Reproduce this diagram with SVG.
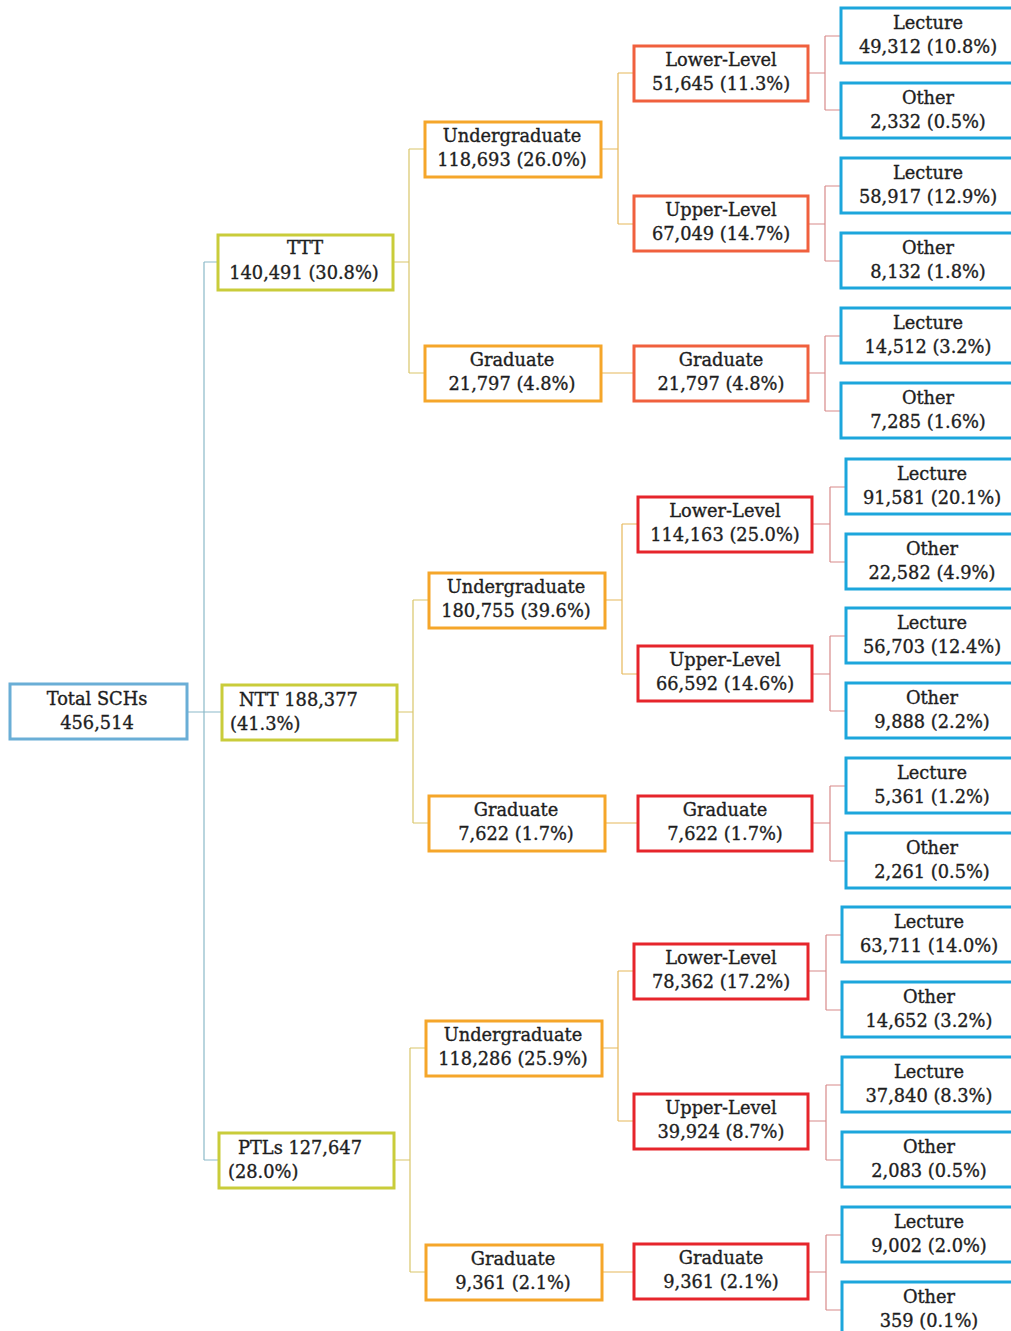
<svg xmlns="http://www.w3.org/2000/svg" width="1011" height="1331" viewBox="0 0 1011 1331">
<style>
rect{fill:#fff;stroke-width:3}
.r0{stroke:#6aaed6}
.r1{stroke:#c9cc3a}
.r2{stroke:#f5a62a}
.r3a{stroke:#f0603e}
.r3b{stroke:#e6252b}
.r4{stroke:#1ca6dc}
text{font-family:"DejaVu Serif","Liberation Serif",serif;font-size:17.8px;fill:#1e1e1e;stroke:#1e1e1e;stroke-width:0.35;text-anchor:middle}
.l{text-anchor:start}
.c0{stroke:#8bb9c9;fill:none;stroke-width:1.2}
.c1{stroke:#d9c66a;fill:none;stroke-width:1.2}
.c2{stroke:#e6b85a;fill:none;stroke-width:1.2}
.c3{stroke:#d88a8a;fill:none;stroke-width:1.2}
</style>
<g id="connectors">
<path class="c0" d="M187 712H204M204 262V1160M204 262H218M204 712H222M204 1160H219"/>
<path class="c1" d="M393 262H409M409 149V373M409 149H425M409 373H425"/>
<path class="c1" d="M397 712H413M413 600V823M413 600H429M413 823H429"/>
<path class="c1" d="M394 1160H410M410 1048V1272M410 1048H426M410 1272H426"/>
<path class="c2" d="M601 149H618M618 73V224M618 73H634M618 224H634M601 373H634"/>
<path class="c2" d="M605 600H622M622 524V674M622 524H638M622 674H638M605 823H638"/>
<path class="c2" d="M602 1048H618M618 971V1121M618 971H634M618 1121H634M602 1272H634"/>
<path class="c3" d="M808 73H825M825 36V110M825 36H841M825 110H841"/>
<path class="c3" d="M808 224H825M825 186V261M825 186H841M825 261H841"/>
<path class="c3" d="M808 373H825M825 336V411M825 336H841M825 411H841"/>
<path class="c3" d="M812 524H830M830 487V562M830 487H846M830 562H846"/>
<path class="c3" d="M812 674H830M830 636V711M830 636H846M830 711H846"/>
<path class="c3" d="M812 823H830M830 786V861M830 786H846M830 861H846"/>
<path class="c3" d="M808 971H826M826 935V1010M826 935H842M826 1010H842"/>
<path class="c3" d="M808 1121H826M826 1085V1160M826 1085H842M826 1160H842"/>
<path class="c3" d="M808 1272H826M826 1235V1310M826 1235H842M826 1310H842"/>
</g>
<g id="root"><rect class="r0" x="10" y="684" width="177" height="55"/><text x="97" y="705">Total SCHs</text><text x="97" y="729">456,514</text></g>
<g id="ttt"><rect class="r1" x="218" y="235" width="175" height="55"/><text x="305" y="254">TTT</text><text x="304" y="279">140,491 (30.8%)</text></g>
<g id="ntt"><rect class="r1" x="222" y="685" width="175" height="55"/><text class="l" x="239" y="706">NTT 188,377</text><text class="l" x="230" y="730">(41.3%)</text></g>
<g id="ptl"><rect class="r1" x="219" y="1133" width="175" height="55"/><text class="l" x="238" y="1154">PTLs 127,647</text><text class="l" x="228" y="1178">(28.0%)</text></g>
<g id="ttt-ug"><rect class="r2" x="425" y="122" width="176" height="55"/><text x="512" y="142">Undergraduate</text><text x="512" y="166">118,693 (26.0%)</text></g>
<g id="ttt-gr"><rect class="r2" x="425" y="346" width="176" height="55"/><text x="512" y="366">Graduate</text><text x="512" y="390">21,797 (4.8%)</text></g>
<g id="ntt-ug"><rect class="r2" x="429" y="573" width="176" height="55"/><text x="516" y="593">Undergraduate</text><text x="516" y="617">180,755 (39.6%)</text></g>
<g id="ntt-gr"><rect class="r2" x="429" y="796" width="176" height="55"/><text x="516" y="816">Graduate</text><text x="516" y="840">7,622 (1.7%)</text></g>
<g id="ptl-ug"><rect class="r2" x="426" y="1021" width="176" height="55"/><text x="513" y="1041">Undergraduate</text><text x="513" y="1065">118,286 (25.9%)</text></g>
<g id="ptl-gr"><rect class="r2" x="426" y="1245" width="176" height="55"/><text x="513" y="1265">Graduate</text><text x="513" y="1289">9,361 (2.1%)</text></g>
<g id="ttt-ll"><rect class="r3a" x="634" y="46" width="174" height="55"/><text x="721" y="66">Lower-Level</text><text x="721" y="90">51,645 (11.3%)</text></g>
<g id="ttt-ul"><rect class="r3a" x="634" y="196" width="174" height="55"/><text x="721" y="216">Upper-Level</text><text x="721" y="240">67,049 (14.7%)</text></g>
<g id="ttt-g2"><rect class="r3a" x="634" y="346" width="174" height="55"/><text x="721" y="366">Graduate</text><text x="721" y="390">21,797 (4.8%)</text></g>
<g id="ntt-ll"><rect class="r3b" x="638" y="497" width="174" height="55"/><text x="725" y="517">Lower-Level</text><text x="725" y="541">114,163 (25.0%)</text></g>
<g id="ntt-ul"><rect class="r3b" x="638" y="646" width="174" height="55"/><text x="725" y="666">Upper-Level</text><text x="725" y="690">66,592 (14.6%)</text></g>
<g id="ntt-g2"><rect class="r3b" x="638" y="796" width="174" height="55"/><text x="725" y="816">Graduate</text><text x="725" y="840">7,622 (1.7%)</text></g>
<g id="ptl-ll"><rect class="r3b" x="634" y="944" width="174" height="55"/><text x="721" y="964">Lower-Level</text><text x="721" y="988">78,362 (17.2%)</text></g>
<g id="ptl-ul"><rect class="r3b" x="634" y="1094" width="174" height="55"/><text x="721" y="1114">Upper-Level</text><text x="721" y="1138">39,924 (8.7%)</text></g>
<g id="ptl-g2"><rect class="r3b" x="634" y="1244" width="174" height="55"/><text x="721" y="1264">Graduate</text><text x="721" y="1288">9,361 (2.1%)</text></g>
<g id="t1"><rect class="r4" x="841" y="8" width="180" height="55"/><text x="928" y="29">Lecture</text><text x="928" y="53">49,312 (10.8%)</text></g>
<g id="t2"><rect class="r4" x="841" y="83" width="180" height="55"/><text x="928" y="104">Other</text><text x="928" y="128">2,332 (0.5%)</text></g>
<g id="t3"><rect class="r4" x="841" y="158" width="180" height="55"/><text x="928" y="179">Lecture</text><text x="928" y="203">58,917 (12.9%)</text></g>
<g id="t4"><rect class="r4" x="841" y="233" width="180" height="55"/><text x="928" y="254">Other</text><text x="928" y="278">8,132 (1.8%)</text></g>
<g id="t5"><rect class="r4" x="841" y="308" width="180" height="55"/><text x="928" y="329">Lecture</text><text x="928" y="353">14,512 (3.2%)</text></g>
<g id="t6"><rect class="r4" x="841" y="383" width="180" height="55"/><text x="928" y="404">Other</text><text x="928" y="428">7,285 (1.6%)</text></g>
<g id="n1"><rect class="r4" x="846" y="459" width="180" height="55"/><text x="932" y="480">Lecture</text><text x="932" y="504">91,581 (20.1%)</text></g>
<g id="n2"><rect class="r4" x="846" y="534" width="180" height="55"/><text x="932" y="555">Other</text><text x="932" y="579">22,582 (4.9%)</text></g>
<g id="n3"><rect class="r4" x="846" y="608" width="180" height="55"/><text x="932" y="629">Lecture</text><text x="932" y="653">56,703 (12.4%)</text></g>
<g id="n4"><rect class="r4" x="846" y="683" width="180" height="55"/><text x="932" y="704">Other</text><text x="932" y="728">9,888 (2.2%)</text></g>
<g id="n5"><rect class="r4" x="846" y="758" width="180" height="55"/><text x="932" y="779">Lecture</text><text x="932" y="803">5,361 (1.2%)</text></g>
<g id="n6"><rect class="r4" x="846" y="833" width="180" height="55"/><text x="932" y="854">Other</text><text x="932" y="878">2,261 (0.5%)</text></g>
<g id="p1"><rect class="r4" x="842" y="907" width="180" height="55"/><text x="929" y="928">Lecture</text><text x="929" y="952">63,711 (14.0%)</text></g>
<g id="p2"><rect class="r4" x="842" y="982" width="180" height="55"/><text x="929" y="1003">Other</text><text x="929" y="1027">14,652 (3.2%)</text></g>
<g id="p3"><rect class="r4" x="842" y="1057" width="180" height="55"/><text x="929" y="1078">Lecture</text><text x="929" y="1102">37,840 (8.3%)</text></g>
<g id="p4"><rect class="r4" x="842" y="1132" width="180" height="55"/><text x="929" y="1153">Other</text><text x="929" y="1177">2,083 (0.5%)</text></g>
<g id="p5"><rect class="r4" x="842" y="1207" width="180" height="55"/><text x="929" y="1228">Lecture</text><text x="929" y="1252">9,002 (2.0%)</text></g>
<g id="p6"><rect class="r4" x="842" y="1282" width="180" height="55"/><text x="929" y="1303">Other</text><text x="929" y="1327">359 (0.1%)</text></g>
</svg>
